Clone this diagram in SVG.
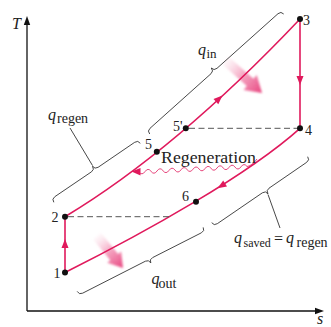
<svg xmlns="http://www.w3.org/2000/svg" width="331" height="327" viewBox="0 0 331 327">
<style>
.cyc{fill:none;stroke:#E0195C;stroke-width:1.6}
.wave{fill:none;stroke:#E0195C;stroke-width:0.8}
.ah{fill:#E0195C}
.dash{fill:none;stroke:#555;stroke-width:1;stroke-dasharray:6 3.5}
.brace{fill:none;stroke:#333;stroke-width:0.9}
.dot{fill:#111}
.axis{fill:none;stroke:#111;stroke-width:1.3}
.axh{fill:#111}
.num{font-family:"Liberation Serif","Times New Roman",serif;font-size:14px;fill:#222}
.qi{font-family:"Liberation Serif","Times New Roman",serif;font-style:italic;font-size:16px;fill:#222}
.sub{font-family:"Liberation Serif","Times New Roman",serif;font-size:14px;fill:#222}
.sub13{font-family:"Liberation Serif","Times New Roman",serif;font-size:13px;fill:#222}
.sub12{font-family:"Liberation Serif","Times New Roman",serif;font-size:12px;fill:#222}
.lbl{font-family:"Liberation Serif","Times New Roman",serif;font-size:16px;fill:#222}
</style>
<defs>
<linearGradient id="gIn" gradientUnits="userSpaceOnUse" x1="225" y1="60" x2="262" y2="93">
<stop offset="0" stop-color="#F7C3D5" stop-opacity="0.1"/>
<stop offset="0.5" stop-color="#F080A8" stop-opacity="0.75"/>
<stop offset="1" stop-color="#E8437E" stop-opacity="1"/>
</linearGradient>
<linearGradient id="gOut" gradientUnits="userSpaceOnUse" x1="97" y1="236" x2="123" y2="268">
<stop offset="0" stop-color="#F7C3D5" stop-opacity="0.1"/>
<stop offset="0.5" stop-color="#F080A8" stop-opacity="0.75"/>
<stop offset="1" stop-color="#E8437E" stop-opacity="1"/>
</linearGradient>
<filter id="soft" x="-20%" y="-20%" width="140%" height="140%"><feGaussianBlur stdDeviation="0.8"/></filter>
</defs>

<g id="axes">
<line class="axis" x1="27" y1="311" x2="27" y2="24"/>
<polygon class="axh" points="27,16 23.8,25 30.2,25"/>
<line class="axis" x1="27" y1="311" x2="316" y2="311"/>
<polygon class="axh" points="324,311 315,307.8 315,314.2"/>
<text class="qi" x="12" y="29">T</text>
<text class="qi" x="317" y="324">s</text>
</g>

<g id="heat-arrows">
<polygon filter="url(#soft)" fill="url(#gIn)" points="221.7,63.7 246.8,86.1 243.5,89.9 262,93 256.8,74.9 253.4,78.7 228.3,56.3"/>
<polygon filter="url(#soft)" fill="url(#gOut)" points="93.1,239.2 110.3,260.3 107.2,262.8 123,268 121.2,251.4 118.1,253.9 100.9,232.8"/>
</g>

<g id="connectors">
<line class="cyc" x1="65" y1="272.5" x2="65" y2="216.7"/>
<path class="cyc" d="M65,216.7 Q176,150 300,19"/>
<line class="cyc" x1="300" y1="19" x2="300" y2="128.3"/>
<path class="cyc" d="M300,128.3 C248,175 145,232.5 65,272.5"/>
<line class="dash" x1="68" y1="216.7" x2="170" y2="216.7"/>
<line class="dash" x1="189" y1="128.3" x2="297" y2="128.3"/>
<path class="wave" d="M257,159 C253,164 250,166 247,166.5 q-3,-4 -6,0.3 t-6,0.3 t-6,0.3 t-6,0.3 t-6,0.3 t-6,0.3 t-6,0.3 t-6,0.3 t-6,0.3 t-6,0.3 t-6,0.3 t-6,0.3 t-6,0.3 t-6,0.3 t-6,0.3 t-6,0.3 t-6,0.3 t-6,0.3"/>
<polygon class="ah" points="131.5,171.5 140.5,168 140.5,175.5"/>
<polygon class="ah" points="65,239 61.5,248 68.5,248"/>
<polygon class="ah" points="300,85 296.5,76 303.5,76"/>
<polygon class="ah" points="222.5,95.6 218.3,104.3 213.5,99.1"/>
<polygon class="ah" points="217.5,188.2 227,186.4 223.2,180.4"/>
</g>

<g id="node-1"><circle class="dot" cx="65" cy="272.5" r="3"/><text class="num" x="53.5" y="278">1</text></g>
<g id="node-2"><circle class="dot" cx="65" cy="216.7" r="3"/><text class="num" x="51.5" y="222">2</text></g>
<g id="node-3"><circle class="dot" cx="300" cy="19" r="3"/><text class="num" x="303" y="25">3</text></g>
<g id="node-4"><circle class="dot" cx="300" cy="128.3" r="3"/><text class="num" x="305" y="135">4</text></g>
<g id="node-5"><circle class="dot" cx="156.8" cy="151.8" r="3"/><text class="num" x="145" y="149">5</text></g>
<g id="node-5p"><circle class="dot" cx="185.8" cy="128.3" r="3"/><text class="num" x="173" y="131">5'</text></g>
<g id="node-6"><circle class="dot" cx="196" cy="201.8" r="3"/><text class="num" x="182" y="201">6</text></g>

<g id="regeneration-label">
<text class="lbl" x="161" y="163" textLength="95" lengthAdjust="spacingAndGlyphs">Regeneration</text>
</g>

<g id="brace-qin">
<path class="brace" d="M149.7,134 Q147,131 150,128.3 L211,73.7 Q214,71 211.3,68 Q214,71 217,68.3 L278,13.7 Q281,11 283.7,14"/>
<text x="198" y="55"><tspan class="qi">q</tspan><tspan class="sub13" x="206.5" y="57.5">in</tspan></text>
</g>

<g id="brace-qregen">
<path class="brace" d="M53.8,202.3 Q51.5,199 54.8,196.7 L91.5,171.8 Q94.8,169.5 92.5,166.2 Q94.8,169.5 98.1,167.3 L134.7,142.3 Q138,140 140.3,143.3"/>
<line class="brace" x1="92.5" y1="165.5" x2="70" y2="128"/>
<text x="48" y="120"><tspan class="qi">q</tspan><tspan class="sub" x="57" y="123">regen</tspan></text>
</g>

<g id="brace-qout">
<path class="brace" d="M77.2,291.4 Q79,295 82.6,293.2 L145.4,261.2 Q149,259.4 150.8,263 Q149,259.4 152.6,257.6 L201.4,232.8 Q205,231 203.2,227.4"/>
<text x="151.5" y="284"><tspan class="qi">q</tspan><tspan class="sub" x="158.5" y="287.5">out</tspan></text>
</g>

<g id="brace-qsaved">
<path class="brace" d="M211.7,222.7 Q214,226 217.3,223.7 L262.4,192.8 Q265.7,190.5 268,193.8 Q265.7,190.5 269,188.2 L306.7,162.3 Q310,160 307.7,156.7"/>
<line class="brace" x1="268" y1="194.5" x2="280" y2="228"/>
<text x="234" y="243"><tspan class="qi">q</tspan><tspan class="sub12" x="243.5" y="246.5">saved</tspan><tspan class="lbl" x="274" y="244">=</tspan><tspan class="qi" x="286" y="243">q</tspan><tspan class="sub" x="296.5" y="247">regen</tspan></text>
</g>
</svg>
